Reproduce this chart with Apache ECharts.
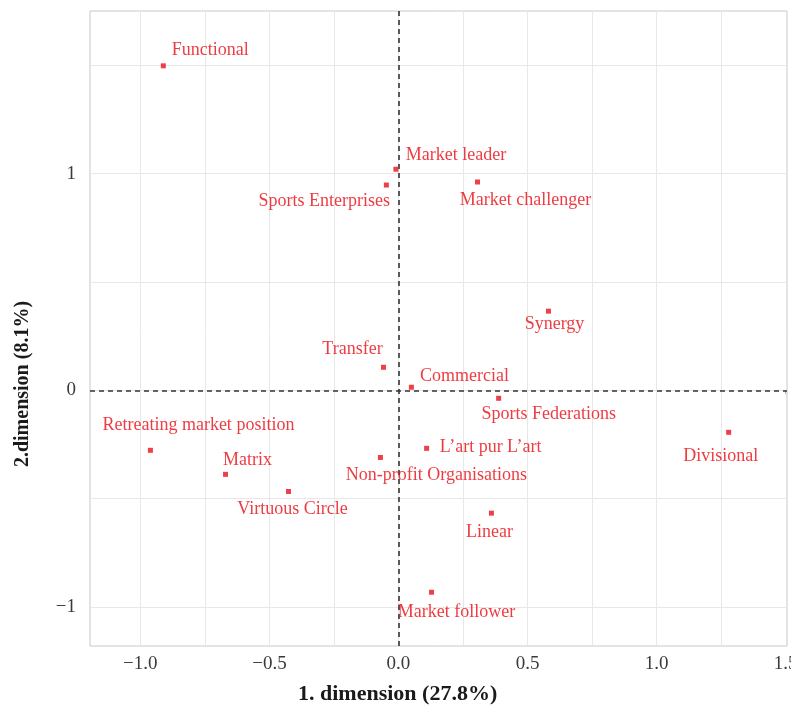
<!DOCTYPE html>
<html>
<head>
<meta charset="utf-8">
<script src="https://cdn.jsdelivr.net/npm/echarts@6/dist/echarts.min.js"></script>
<style>
html,body{margin:0;padding:0;background:#fff;overflow:hidden;}
#chart{width:791px;height:706px;}
</style>
</head>
<body>
<div id="chart"></div>
<script>
// ---- data ----
const categories = [
  "Functional", "Market leader", "Sports Enterprises", "Market challenger",
  "Synergy", "Transfer", "Commercial", "Sports Federations", "Divisional",
  "L\u2019art pur L\u2019art", "Non-profit Organisations", "Retreating market position",
  "Matrix", "Virtuous Circle", "Linear", "Market follower"
];
const dim1 = [-0.911, -0.010, -0.047, 0.306, 0.581, -0.058, 0.050, 0.388, 1.279,
  0.109, -0.070, -0.961, -0.670, -0.426, 0.360, 0.128];
const dim2 = [1.497, 1.020, 0.947, 0.961, 0.365, 0.106, 0.014, -0.037, -0.194,
  -0.268, -0.310, -0.277, -0.388, -0.467, -0.567, -0.932];
const xTickValues = [-1, -0.5, 0, 0.5, 1, 1.5];
const yTickValues = [-1, 0, 1];
const xGridValues = [-1, -0.75, -0.5, -0.25, 0, 0.25, 0.5, 0.75, 1, 1.25];
const yGridValues = [-1, -0.5, 0, 0.5, 1, 1.5];
const xTitle = "1. dimension (27.8%)";
const yTitle = "2.dimension (8.1%)";

// ---- label placement (style, px offsets from point) ----
const labelOffsets = {
  "Functional": [47, -16],
  "Market leader": [60, -14],
  "Sports Enterprises": [-62, 16],
  "Market challenger": [48, 18],
  "Synergy": [6, 13],
  "Transfer": [-31, -18],
  "Commercial": [53, -11],
  "Sports Federations": [50, 16],
  "Divisional": [-8, 24],
  "L\u2019art pur L\u2019art": [64, -1],
  "Non-profit Organisations": [56, 18],
  "Retreating market position": [48, -25],
  "Matrix": [22, -14],
  "Virtuous Circle": [4, 18],
  "Linear": [-2, 19],
  "Market follower": [25, 20]
};

const SERIF = '"Liberation Serif","DejaVu Serif",serif';
const RED = '#ea0a12';
const fmtNum = (v, d) => (v < 0 ? '\u2212' : '') + Math.abs(v).toFixed(d);

const points = categories.map((name, i) => ({
  name: name,
  value: [dim1[i], dim2[i]],
  label: {
    show: true,
    formatter: name,
    position: 'inside',
    align: 'center',
    verticalAlign: 'middle',
    offset: labelOffsets[name] || [0, -14],
    color: RED,
    fontFamily: SERIF,
    fontSize: 18
  }
}));

const chart = echarts.init(document.getElementById('chart'), null, {renderer: 'canvas', width: 791, height: 706});
chart.setOption({
  animation: false,
  backgroundColor: '#ffffff',
  grid: {left: 90, right: 4, top: 11, bottom: 60, outerBoundsMode: 'none', containLabel: false, show: true, borderColor: '#c8c8c8', borderWidth: 1, backgroundColor: 'transparent'},
  xAxis: {
    type: 'value', min: -1.195, max: 1.505,
    axisLine: {show: false},
    splitLine: {show: false},
    axisTick: {show: true, customValues: xTickValues, length: 4, inside: false, lineStyle: {color: '#b0b0b0'}},
    axisLabel: {customValues: xTickValues, formatter: v => fmtNum(v, 1), color: '#3a3a3a', fontFamily: SERIF, fontSize: 19, margin: 9}
  },
  yAxis: {
    type: 'value', min: -1.18, max: 1.75,
    axisLine: {show: false},
    splitLine: {show: false},
    axisTick: {show: true, customValues: yTickValues, length: 4, inside: false, lineStyle: {color: '#b0b0b0'}},
    axisLabel: {customValues: yTickValues, formatter: v => fmtNum(v, 0), color: '#3a3a3a', fontFamily: SERIF, fontSize: 19, margin: 14}
  },
  graphic: [
    {type: 'text', left: 403 - 105, top: 683, style: {text: xTitle, font: 'bold 22px ' + SERIF, fill: '#1a1a1a'}},
    {type: 'text', x: 23, y: 384, rotation: Math.PI / 2, style: {text: yTitle, font: 'bold 20px ' + SERIF, fill: '#1a1a1a', align: 'center', verticalAlign: 'middle'}}
  ],
  series: [
    {
      type: 'scatter', data: [], silent: true, z: 1,
      markLine: {
        silent: true, symbol: 'none', animation: false,
        label: {show: false},
        lineStyle: {color: '#e8e8e8', width: 1, type: 'solid'},
        data: xGridValues.map(v => ({xAxis: v})).concat(yGridValues.map(v => ({yAxis: v})))
      }
    },
    {
      type: 'scatter', data: [], silent: true, z: 2,
      markLine: {
        silent: true, symbol: 'none', animation: false,
        label: {show: false},
        lineStyle: {color: '#333333', width: 1.6, type: [5, 4]},
        data: [{xAxis: 0}, {yAxis: 0}]
      }
    },
    {
      type: 'scatter', z: 5,
      symbol: 'rect', symbolSize: 5,
      itemStyle: {color: '#e8101a'},
      data: points
    }
  ]
});
</script>
</body>
</html>
